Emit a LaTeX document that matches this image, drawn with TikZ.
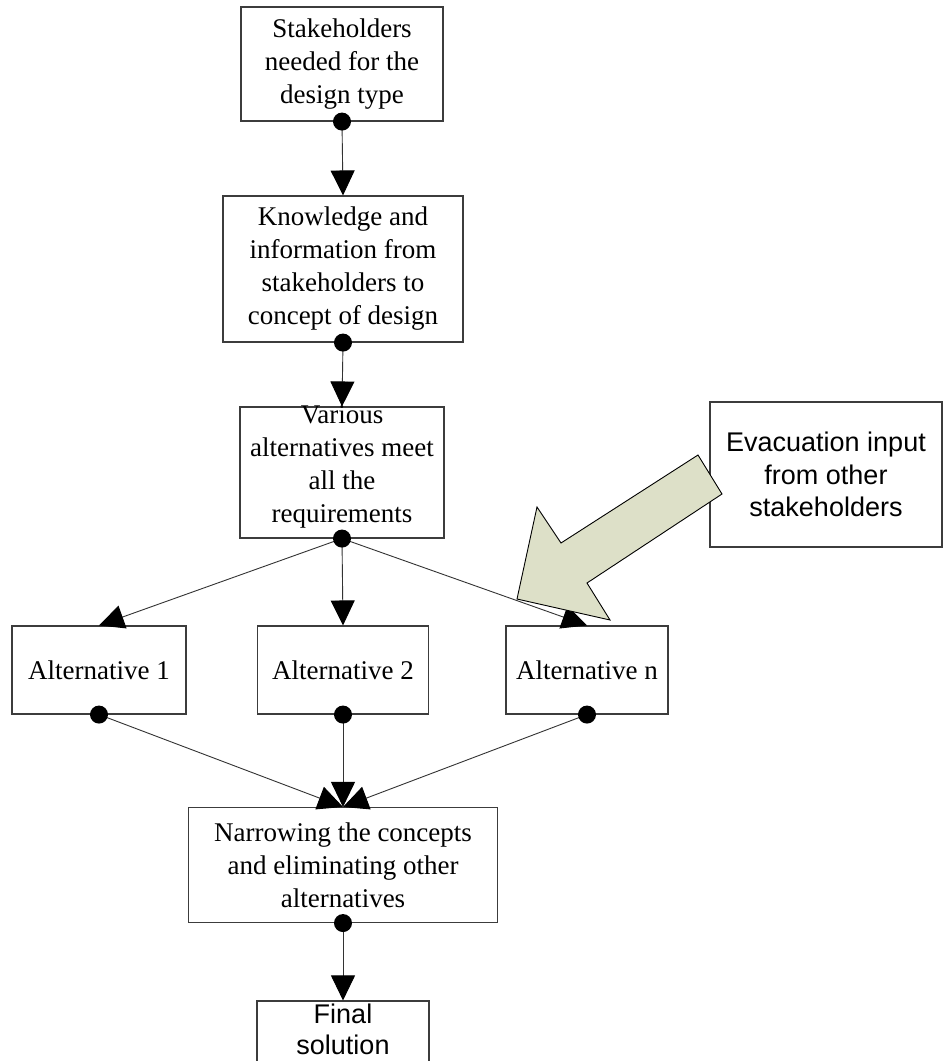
\documentclass[tikz,border=0pt]{standalone}
\usepackage{fontspec}
\setmainfont{Liberation Serif}
\newfontfamily\arialf{Liberation Sans}
\usetikzlibrary{arrows.meta}
\definecolor{bigfill}{RGB}{221,224,200}
\definecolor{edgegray}{RGB}{60,60,60}
\tikzset{
  x=1pt,y=-1pt,
  stepbox/.style={draw=edgegray,line width=1.1pt,inner sep=0pt,align=center,
    font=\fontsize{27}{33}\selectfont},
  sansbox/.style={stepbox,font=\arialf\fontsize{27}{32.5}\selectfont},
  conn/.style={draw=black!80,line width=0.9pt,-{Triangle[length=25pt,width=24pt,color=black]}},
  dotmark/.style={fill=black},
  bigarrow/.style={draw=black,fill=bigfill,line width=0.9pt,line join=miter}
}
\begin{document}
\begin{tikzpicture}
\clip (0,0) rectangle (943,1061);
\fill[white] (0,0) rectangle (943,1061);
\node[stepbox,minimum width=202pt,minimum height=114pt] (b1) at (342,64) {Stakeholders\\needed for the\\design type};
\node[stepbox,minimum width=240pt,minimum height=146pt] (b2) at (343,269) {Knowledge and\\information from\\stakeholders to\\concept of design};
\node[stepbox,minimum width=204pt,minimum height=131pt] (b3) at (342,472.5) {};
\node[font=\fontsize{27}{33}\selectfont,align=center,inner sep=0pt] (b3t) at (342,467) {Various\\alternatives meet\\all the\\requirements};
\node[stepbox,minimum width=174pt,minimum height=88pt] (a1) at (99,670) {Alternative 1};
\node[stepbox,minimum width=171pt,minimum height=88pt] (a2) at (343,670) {Alternative 2};
\node[stepbox,minimum width=162pt,minimum height=88pt] (an) at (587,670) {Alternative n};
\node[stepbox,minimum width=309pt,minimum height=115pt] (nr) at (343,865) {Narrowing the concepts\\and eliminating other\\alternatives};
\node[stepbox,minimum width=172pt,minimum height=72pt] (fin) at (343,1037) {};
\node[font=\arialf\fontsize{27}{31}\selectfont,align=center,inner sep=0pt] (fint) at (343,1029) {Final\\solution};
\node[sansbox,minimum width=232pt,minimum height=145pt] (ev) at (826,474.5) {Evacuation input\\from other\\stakeholders};
% connectors
\draw[conn] (b1.south) -- (b2.north);
\draw[conn] (b2.south) -- (b3.north);
\draw[conn] (b3.south) -- (a1.north);
\draw[conn] (b3.south) -- (a2.north);
\draw[conn] (b3.south) -- (an.north);
\draw[conn] (a1.south) -- (nr.north);
\draw[conn] (an.south) -- (nr.north);
\draw[conn] (a2.south) -- (nr.north);
\draw[conn] (nr.south) -- (fin.north);
% dots
\foreach \n in {b1,b2,b3,a1,a2,an,nr}{\fill[dotmark] (\n.south) circle (9pt);}
% big arrow
\draw[bigarrow] (698,455) -- (561,543) -- (537,507) -- (517,599) -- (610,620) -- (587,583) -- (722,494) -- cycle;
\end{tikzpicture}
\end{document}
